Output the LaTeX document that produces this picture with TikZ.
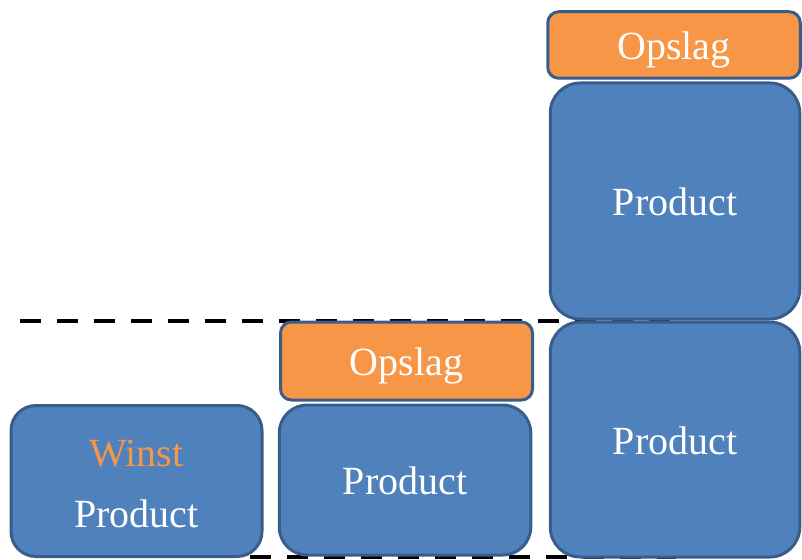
\documentclass[tikz,border=0pt]{standalone}
\usepackage{fontspec}
\setmainfont{Liberation Serif}
\usetikzlibrary{positioning}
\definecolor{blokblauw}{HTML}{4F81BD}
\definecolor{randblauw}{HTML}{385D8A}
\definecolor{oranje}{HTML}{F79646}
\tikzset{
	blok/.style={draw=randblauw, line width=3pt, fill=blokblauw, text=white, rounded corners=28pt, font=\fontsize{40}{61}\selectfont, align=center, inner sep=0pt},
	enkel/.style={text height=29pt, text depth=0pt},
	opslagblok/.style={blok, enkel, fill=oranje, rounded corners=11pt},
	streep/.style={line width=4pt, dash pattern=on 21pt off 16pt}
}
\begin{document}
\begin{tikzpicture}[x=1pt, y=-1pt]
\useasboundingbox (0,0) rectangle (802,559);
\coordinate (lijnL) at (20,321);
\coordinate (lijnR) at (676,321);
\coordinate (bodemL) at (250,557);
\coordinate (bodemR) at (676,557);
\draw[streep] (lijnL)--(lijnR) (bodemL)--(bodemR);
\node[blok, rounded corners=25pt, minimum width=251pt, minimum height=151pt](winst) at (136.5,481){\rule{0pt}{32.5pt}{\color{oranje}Winst}\\Product};
\node[blok, enkel, minimum width=251.5pt, minimum height=150pt](prodB) at (405,480){Product};
\node[opslagblok, minimum width=252pt, minimum height=78pt](opslagB) at (406.5,361){Opslag};
\node[blok, enkel, rounded corners=30pt, minimum width=249.5pt, minimum height=235pt](prodC) at (675,439.5){Product};
\node[blok, enkel, rounded corners=30pt, minimum width=249.5pt, minimum height=236pt](prodD) at (675,201){Product};
\node[opslagblok, minimum width=252.5pt, minimum height=66.5pt](opslagD) at (674,45){Opslag};
\end{tikzpicture}
\end{document}
